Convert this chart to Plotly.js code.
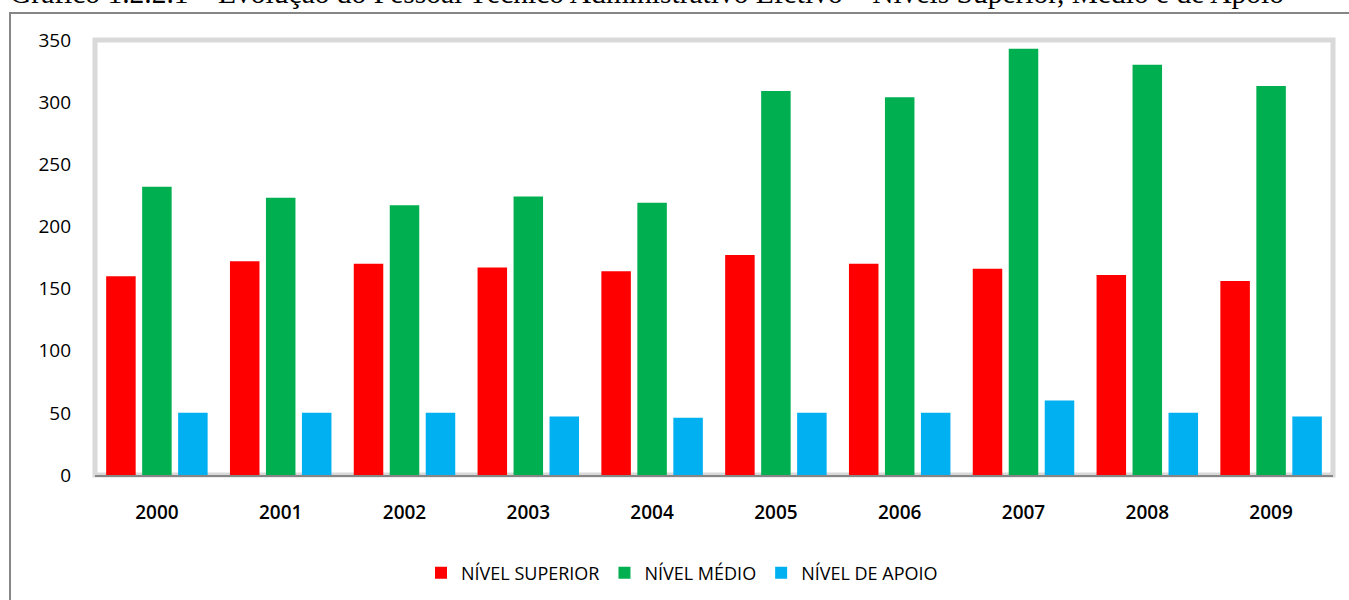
<!DOCTYPE html>
<html>
<head>
<meta charset="utf-8">
<script src="https://cdn.plot.ly/plotly-3.0.1.min.js"></script>
<style>html,body{margin:0;padding:0;background:#fff;}#chart{width:1349px;height:600px;}</style>
</head>
<body>
<div id="chart"></div>
<script>
const years = ["2000","2001","2002","2003","2004","2005","2006","2007","2008","2009"];
const nivelSuperior = [160, 172, 170, 167, 164, 177, 170, 166, 161, 156];
const nivelMedio = [232, 223, 217, 224, 219, 309, 304, 343, 330, 313];
const nivelApoio = [50, 50, 50, 47, 46, 50, 50, 60, 50, 47];
const seriesNames = ["NÍVEL SUPERIOR", "NÍVEL MÉDIO", "NÍVEL DE APOIO"];
const yTicks = [0, 50, 100, 150, 200, 250, 300, 350];
const titleText = "Gráfico 1.2.2.1 – Evolução do Pessoal Técnico Administrativo Efetivo – Níveis Superior, Médio e de Apoio";

const colors = ["#FF0000", "#00B050", "#00B0F0"];
const traces = [nivelSuperior, nivelMedio, nivelApoio].map((vals, i) => ({
  type: "bar",
  x: years,
  y: vals,
  name: seriesNames[i],
  marker: {color: colors[i]},
  hoverinfo: "x+y+name"
}));

const L = 95, R = 16, T = 40, B = 125, W = 1349, H = 600;
const pw = W - L - R, ph = H - T - B;
const px = X => (X - L) / pw;
const py = Y => (H - B - Y) / ph;

const layout = {
  width: W, height: H,
  margin: {l: L, r: R, t: T, b: B, pad: 0, autoexpand: false},
  paper_bgcolor: "#ffffff",
  plot_bgcolor: "#ffffff",
  font: {family: "'Open Sans', sans-serif", color: "#000000", size: 18},
  barmode: "group",
  bargap: 0.128,
  bargroupgap: 0.18,
  showlegend: true,
  legend: {
    orientation: "h",
    x: px(421), xanchor: "left",
    y: py(573), yanchor: "middle",
    font: {family: "'Open Sans', sans-serif", size: 18, color: "#000"},
    bgcolor: "rgba(0,0,0,0)"
  },
  xaxis: {
    type: "category",
    showgrid: false,
    zeroline: false,
    showline: true,
    linecolor: "#868686",
    linewidth: 2,
    ticks: "",
    ticklabelstandoff: 19,
    tickfont: {family: "'Open Sans', sans-serif", size: 19, color: "#000", weight: 600},
    fixedrange: true
  },
  yaxis: {
    range: [0, 350],
    tickvals: yTicks,
    ticktext: yTicks.map(String),
    showgrid: false,
    zeroline: false,
    showline: false,
    ticks: "",
    ticklabelstandoff: 23,
    tickfont: {family: "'Open Sans', sans-serif", size: 19, color: "#000"},
    fixedrange: true
  },
  shapes: [
    {type: "rect", xref: "paper", yref: "paper", x0: 0, x1: 1, y0: 0, y1: 1,
     line: {color: "#d9d9d9", width: 5}, layer: "below"},
    {type: "rect", xref: "paper", yref: "paper", x0: px(10), x1: px(1370), y0: py(13), y1: py(640),
     line: {color: "#868686", width: 2}, layer: "below"}
  ],
  annotations: [
    {text: titleText, xref: "paper", yref: "paper", x: px(8), xanchor: "left",
     y: py(-6.5), yanchor: "middle", showarrow: false,
     font: {family: "'Liberation Serif', serif", size: 29.5, color: "#000"}}
  ]
};

Plotly.newPlot("chart", traces, layout, {displayModeBar: false, staticPlot: true});
</script>
</body>
</html>
